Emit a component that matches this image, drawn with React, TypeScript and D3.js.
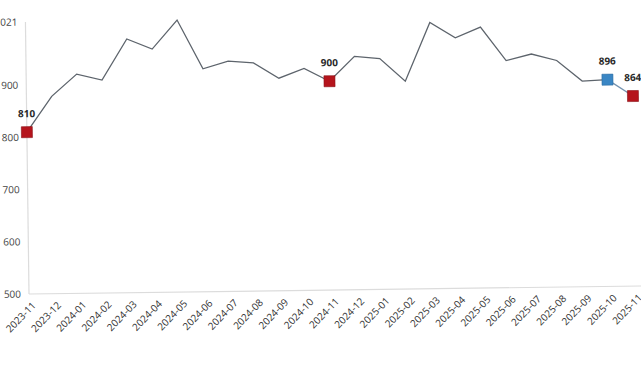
import React from "react";
import * as d3 from "d3";

const months = [
  "2023-11","2023-12","2024-01","2024-02","2024-03","2024-04","2024-05","2024-06","2024-07","2024-08","2024-09","2024-10","2024-11",
  "2024-12","2025-01","2025-02","2025-03","2025-04","2025-05","2025-06","2025-07","2025-08","2025-09","2025-10","2025-11",
];
const values = [810, 878, 920, 908, 986, 966, 1021, 927, 941, 937, 907, 925, 900, 947, 942, 898, 1010, 980, 1000, 935, 947, 934, 894, 896, 864];
const yTicks = [500, 600, 700, 800, 900, 1021];
const redMarked = ["2023-11", "2024-11", "2025-11"];
const blueMarked = ["2025-10"];

const W = 641, H = 380;
const X0 = 29, X1 = 635.5, Y0 = 294, Y1 = 22;

export default function App() {
  const x = d3.scalePoint<string>().domain(months).range([X0, X1]);
  const y = d3.scaleLinear().domain([500, 1021]).range([Y0, Y1]);
  const pts = months.map((m, i) => ({ m, v: values[i], x: x(m)!, y: y(values[i]) }));
  const line = d3.line<{ x: number; y: number }>().x(d => d.x).y(d => d.y);
  const n = pts.length;
  const font = "'Open Sans', 'Noto Sans', sans-serif";
  return (
    <svg width={W} height={H} style={{ position: "absolute", left: 0, top: 0, background: "#fff" }} fontFamily={font}>
      <g transform={`rotate(-0.75, ${X0}, ${Y0})`}>
        <line x1={X0} x2={W + 10} y1={Y0} y2={Y0} stroke="#dcdcdc" strokeWidth={1.2} />
        <line x1={X0} x2={X0} y1={Y1} y2={Y0} stroke="#dcdcdc" strokeWidth={1.2} />
        {yTicks.map(t => (
          <text key={t} x={X0 - 8} y={y(t)} dy="0.35em" textAnchor="end" fontSize={10} fill="#444">{t}</text>
        ))}
        {months.map(m => (
          <text key={m} transform={`translate(${x(m)! + 3}, ${Y0 + 8}) rotate(-45)`} textAnchor="end" dy="0.6em" fontSize={10} fill="#333">{m}</text>
        ))}
        <path d={line(pts.slice(0, n - 1)) || ""} fill="none" stroke="#5d646c" strokeWidth={1.3} />
        <path d={line(pts.slice(n - 2)) || ""} fill="none" stroke="#7493b0" strokeWidth={1.3} />
        {pts.filter(p => redMarked.includes(p.m) || blueMarked.includes(p.m)).map(p => (
          <g key={p.m}>
            <rect x={p.x - 5.5} y={p.y - 5.5} width={11} height={11}
              fill={blueMarked.includes(p.m) ? "#3a86c4" : "#b5141c"}
              stroke={blueMarked.includes(p.m) ? "#2a6aa0" : "#8a0f15"} strokeWidth={0.6} />
            <text x={p.x} y={p.y - 15} textAnchor="middle" fontSize={10} fontWeight="bold" fill="#2a2a2a">{p.v}</text>
          </g>
        ))}
      </g>
    </svg>
  );
}
